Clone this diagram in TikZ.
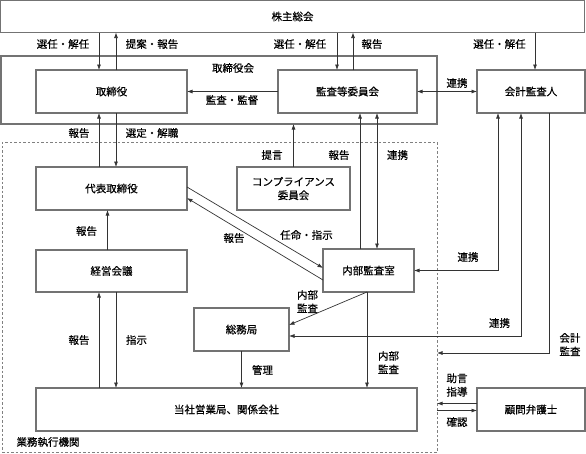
\documentclass[tikz,border=0pt]{standalone}
\usepackage{fontspec}
\setmainfont{Noto Sans CJK JP}[UprightFeatures={FakeBold=0.6}]
\usetikzlibrary{arrows.meta}

\begin{document}
\begin{tikzpicture}[x=1pt,y=-1pt,
  every node/.style={inner sep=0pt, outer sep=0pt, text=black,
    font=\fontsize{10.5}{13.5}\selectfont},
  box/.style={draw=black!55, line width=1.1pt, minimum height=43pt},
  frm/.style={draw=black!50, line width=0.9pt, dash pattern=on 2.5pt off 2pt},
  cn/.style={draw=black!80, line width=0.7pt},
  >={Latex[length=5.5pt,width=4pt]}]
\useasboundingbox (0,0) rectangle (586,453);

\node[box, minimum width=584pt, minimum height=32pt] (soukai) at (292.5,16.5) {株主総会};
\node[box, minimum width=436pt, minimum height=68pt] (torikai) at (219,90) {};
\node (torikaiL) at (233,68) {取締役会};
\node[box, minimum width=151pt] (tori) at (111.5,91.5) {取締役};
\node[box, minimum width=139pt] (kansa) at (347.5,91.5) {監査等委員会};
\node[box, minimum width=108pt] (kaikei) at (531,91.5) {会計監査人};

\node[frm, minimum width=435pt, minimum height=310pt] (gyomu) at (219.5,297) {};
\node (gyomuL) at (48,442) {業務執行機関};
\node[box, minimum width=151pt] (daihyo) at (111.5,188.5) {代表取締役};
\node[box, minimum width=113pt, align=center] (comp) at (293.5,188.5) {コンプライアンス\\委員会};
\node[box, minimum width=151pt, minimum height=42pt] (keiei) at (111.5,271) {経営会議};
\node[box, minimum width=91pt] (naibu) at (368.5,270.5) {内部監査室};
\node[box, minimum width=95pt] (somu) at (241.5,329.5) {総務局};
\node[box, minimum width=381pt] (tosha) at (226.5,409.5) {当社営業局、関係会社};
\node[box, minimum width=108pt] (bengo) at (531,409.5) {顧問弁護士};

\draw[cn,->] ([xshift=-12.5pt]tori.north |- soukai.south) -- ([xshift=-12.5pt]tori.north);
\draw[cn,->] ([xshift=4.5pt]tori.north) -- ([xshift=4.5pt]tori.north |- soukai.south);
\draw[cn,->] ([xshift=-10.5pt]kansa.north |- soukai.south) -- ([xshift=-10.5pt]kansa.north);
\draw[cn,->] ([xshift=5.5pt]kansa.north) -- ([xshift=5.5pt]kansa.north |- soukai.south);
\draw[cn,->] ([xshift=4pt]kaikei.north |- soukai.south) -- ([xshift=4pt]kaikei.north);
\draw[cn,->] (kansa.west) -- (tori.east);
\draw[cn,<->] (kansa.east) -- (kaikei.west);

\draw[cn,->] ([xshift=-12.5pt]daihyo.north) -- ([xshift=-12.5pt]daihyo.north |- tori.south);
\draw[cn,->] ([xshift=4.5pt]tori.south) -- ([xshift=4.5pt]tori.south |- daihyo.north);
\draw[cn,->] ([xshift=-4pt]keiei.north) -- ([xshift=-4pt]keiei.north |- daihyo.south);
\draw[cn,->] ([xshift=-12.5pt]keiei.south |- tosha.north) -- ([xshift=-12.5pt]keiei.south);
\draw[cn,->] ([xshift=4.5pt]keiei.south) -- ([xshift=4.5pt]keiei.south |- tosha.north);
\draw[cn,->] (comp.north) -- (comp.north |- torikai.south);
\draw[cn,->] ([xshift=-8.5pt]naibu.north) -- ([xshift=-8.5pt]naibu.north |- kansa.south);
\draw[cn,<->] ([xshift=8.5pt]naibu.north) -- ([xshift=8.5pt]naibu.north |- kansa.south);
\draw[cn,->] ([yshift=1.5pt]daihyo.east) -- ([yshift=2.5pt]naibu.west);
\draw[cn,->] ([yshift=-9.5pt]naibu.west) -- ([yshift=-9.5pt]daihyo.east);

\draw[cn,<->] (naibu.east) -| ([xshift=-33pt]kaikei.south);
\draw[cn,<->] ([yshift=-6.5pt]somu.east) -| ([xshift=-10pt]kaikei.south);
\draw[cn,->] ([xshift=18pt]kaikei.south) |- ([yshift=-56pt]gyomu.east);
\draw[cn,->] ([xshift=-1.5pt]naibu.south) -- ([yshift=4.5pt]somu.east);
\draw[cn,->] ([xshift=-1.5pt]naibu.south) -- ([xshift=-1.5pt]naibu.south |- tosha.north);
\draw[cn,->] (somu.south) -- (somu.south |- tosha.north);
\draw[cn,->] ([yshift=6pt]bengo.west) -- ([yshift=6pt]bengo.west -| gyomu.east);
\draw[cn,->] ([yshift=-1pt]bengo.west -| gyomu.east) -- ([yshift=-1pt]bengo.west);

\node (senA) at (63,44) {選任・解任};
\node (teian) at (152,44) {提案・報告};
\node (senB) at (300,44) {選任・解任};
\node (hokA) at (372,44) {報告};
\node (senC) at (499.5,44) {選任・解任};
\node (kansaL) at (232,100) {監査・監督};
\node (renA) at (457,83) {連携};
\node (hokB) at (79,133) {報告};
\node (sentei) at (152,133) {選定・解職};
\node (teigen) at (272,155) {提言};
\node (hokC) at (339,155) {報告};
\node (renB) at (397.5,155) {連携};
\node (hokD) at (86.5,231) {報告};
\node (hokE) at (234,238) {報告};
\node (ninmei) at (306.5,235) {任命・指示};
\node (renC) at (468,257) {連携};
\node[align=center] (naiA) at (307.5,301.5) {内部\\監査};
\node (hokF) at (79,340) {報告};
\node (shiji) at (136.5,340) {指示};
\node (renD) at (499.5,323) {連携};
\node[align=center] (kaiL) at (570,344.5) {会計\\監査};
\node (kanri) at (262.5,370) {管理};
\node[align=center] (naiB) at (388.5,362.5) {内部\\監査};
\node[align=center] (jogen) at (457,385) {助言\\指導};
\node (kakunin) at (457,422) {確認};
\end{tikzpicture}
\end{document}
